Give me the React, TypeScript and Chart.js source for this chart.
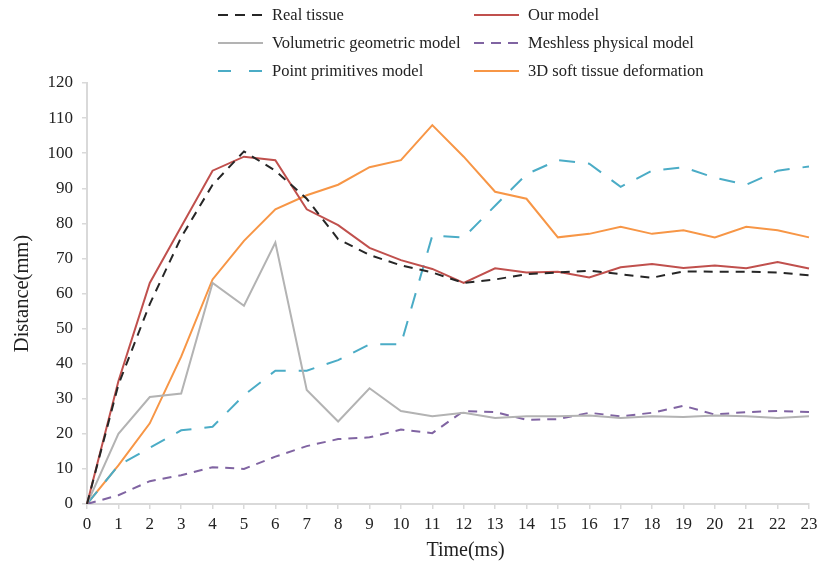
import React, { useEffect, useRef } from "react";
import { Chart, registerables } from "chart.js";

Chart.register(...registerables);

const timeLabels = ["0","1","2","3","4","5","6","7","8","9","10","11","12","13","14","15","16","17","18","19","20","21","22","23"];
const realTissue = [0, 34, 57, 76, 91, 100.5, 95, 87, 75.5, 71, 68, 66, 63, 64, 65.5, 66, 66.5, 65.5, 64.5, 66.3, 66.2, 66.2, 66, 65.2];
const ourModel = [0, 35, 63, 79, 95, 99, 98, 84, 79.5, 73, 69.5, 67, 63, 67.2, 66, 66.2, 64.6, 67.5, 68.4, 67.3, 68, 67.2, 69, 67.1];
const volumetric = [0, 20, 30.5, 31.5, 63, 56.5, 74.5, 32.5, 23.5, 33, 26.5, 25, 26, 24.5, 25, 25, 25.2, 24.5, 25, 24.8, 25.2, 25, 24.5, 25];
const meshless = [0, 2.5, 6.5, 8.2, 10.5, 10, 13.5, 16.5, 18.5, 19, 21.2, 20.2, 26.5, 26.2, 24, 24.2, 26, 25, 26, 28, 25.5, 26.2, 26.5, 26.2];
const pointPrimitives = [0, 11, 16, 21, 22, 31, 38, 38, 41, 45.5, 45.5, 76.5, 76, 85, 94, 98, 97, 90.4, 95, 96, 93, 91, 95, 96.2];
const softTissue3D = [0, 11, 23, 42, 64, 75, 84, 88, 91, 96, 98, 108, 99, 89, 87, 76, 77, 79, 77, 78, 76, 79, 78, 76];
const yTicks = [0, 10, 20, 30, 40, 50, 60, 70, 80, 90, 100, 110, 120];

const FONT = "'Liberation Serif', 'Times New Roman', serif";

const legendPlugin = {
  id: "gridLegend",
  afterDraw(chart: any) {
    const ctx = chart.ctx;
    const colX = [218, 474];
    const rowY = [15, 43, 71];
    ctx.save();
    chart.data.datasets.forEach((ds: any, i: number) => {
      const x0 = colX[i % 2];
      const y = rowY[Math.floor(i / 2)];
      ctx.beginPath();
      ctx.strokeStyle = ds.borderColor;
      ctx.lineWidth = ds.borderWidth;
      ctx.setLineDash(ds.legendDash || ds.borderDash || []);
      ctx.moveTo(x0, y);
      ctx.lineTo(x0 + 45, y);
      ctx.stroke();
      ctx.setLineDash([]);
      ctx.fillStyle = "#222";
      ctx.font = `16.5px ${FONT}`;
      ctx.textBaseline = "middle";
      ctx.textAlign = "left";
      ctx.fillText(ds.label, x0 + 54, y + 1);
    });
    ctx.restore();
  },
};

export default function App() {
  const ref = useRef<HTMLCanvasElement>(null);
  useEffect(() => {
    document.body.style.margin = "0";
    const mk = (label: string, data: number[], color: string, dash: number[], legendDash?: number[]) => ({
      label,
      data,
      borderColor: color,
      backgroundColor: color,
      borderWidth: 2,
      borderDash: dash,
      legendDash,
      pointRadius: 0,
      tension: 0,
      fill: false,
    });
    const chart = new Chart(ref.current!, {
      type: "line",
      data: {
        labels: timeLabels,
        datasets: [
          mk("Real tissue", realTissue, "#262626", [9, 7], [10, 7]),
          mk("Our model", ourModel, "#c0504d", []),
          mk("Volumetric geometric model", volumetric, "#b3b3b3", []),
          mk("Meshless physical model", meshless, "#8064a2", [9, 7], [10, 7]),
          mk("Point primitives model", pointPrimitives, "#4bacc6", [16, 13], [13, 18]),
          mk("3D soft tissue deformation", softTissue3D, "#f79646", []),
        ] as any,
      },
      options: {
        responsive: false,
        animation: false,
        devicePixelRatio: 1,
        layout: { padding: { top: 83, right: 9, left: 0, bottom: 0 } },
        plugins: { legend: { display: false }, tooltip: { enabled: false } },
        scales: {
          x: {
            type: "category",
            offset: false,
            grid: { drawOnChartArea: false, drawTicks: true, tickLength: 5, color: "#d9d9d9", lineWidth: 1.5 },
            border: { color: "#d9d9d9", width: 2 },
            ticks: { color: "#222", font: { family: FONT, size: 17 }, padding: 5, maxRotation: 0, autoSkip: false },
            title: { display: true, text: "       Time(ms)", color: "#222", font: { family: FONT, size: 20 }, padding: { top: 0, bottom: 2 } },
            afterFit: (s: any) => { s.height = 61; s.paddingRight = 0; s.paddingLeft = 0; },
          },
          y: {
            min: 0,
            max: 120,
            afterBuildTicks: (s: any) => { s.ticks = yTicks.map((v) => ({ value: v })); },
            grid: { drawOnChartArea: false, drawTicks: true, tickLength: 5, color: "#d9d9d9", lineWidth: 1.5 },
            border: { color: "#d9d9d9", width: 2 },
            ticks: { color: "#222", font: { family: FONT, size: 17 }, padding: 9 },
            title: { display: true, text: "Distance(mm)", color: "#222", font: { family: FONT, size: 20.5 }, padding: { top: 10, bottom: 0 } },
            afterFit: (s: any) => { s.width = 87; s.paddingTop = 0; s.paddingBottom = 0; },
          },
        },
      },
      plugins: [legendPlugin],
    });
    return () => chart.destroy();
  }, []);
  return <canvas ref={ref} width={818} height={565} style={{ display: "block", width: 818, height: 565 }} />;
}
